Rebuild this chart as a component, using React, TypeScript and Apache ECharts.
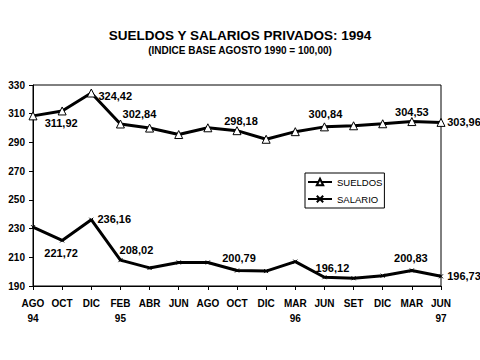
import React, { useEffect, useRef } from "react";
import * as echarts from "echarts";

const months = ["AGO", "OCT", "DIC", "FEB", "ABR", "JUN", "AGO", "OCT", "DIC", "MAR", "JUN", "SET", "DIC", "MAR", "JUN"];
const years = ["94", "", "", "95", "", "", "", "", "", "96", "", "", "", "", "97"];
const sueldos = [308.5, 311.92, 324.42, 302.84, 300.0, 295.5, 300.2, 298.18, 292.2, 297.5, 300.84, 301.6, 303.0, 304.53, 303.96];
const salarios = [231.0, 221.72, 236.16, 208.02, 202.6, 206.4, 206.4, 200.79, 200.4, 207.0, 196.12, 195.4, 197.2, 200.83, 196.73];
const yTicks = [190, 210, 230, 250, 270, 290, 310, 330];
const legendNames: Record<string, string> = { SUELDOS: "SUELDOS", SALARIOS: "SALARIO" };

const FONT = "Liberation Sans, Arial, sans-serif";

// label offsets (dx, dy) for labelled points, keyed by index
const sueldosLabels: Record<number, [number, number]> = {
  1: [-1, 12], 2: [24, 3], 3: [19, -10], 7: [4, -10], 10: [1, -13], 13: [0, -10], 14: [23, 0],
};
const salariosLabels: Record<number, [number, number]> = {
  1: [-1, 13], 2: [23, -1], 3: [16, -10], 7: [2, -13], 10: [8, -9], 13: [-1, -12], 14: [23, 0],
};

const fmt = (v: number) => v.toFixed(2).replace(".", ",");

function buildData(values: number[], labels: Record<number, [number, number]>) {
  return values.map((v, i) => {
    const off = labels[i];
    if (!off) return v;
    return {
      value: v,
      label: {
        show: true,
        position: "inside",
        offset: off,
        formatter: fmt(v),
        color: "#000",
        fontFamily: FONT,
        fontWeight: "bold",
        fontSize: 11,
      },
    };
  });
}

export default function App() {
  const ref = useRef<HTMLDivElement>(null);
  useEffect(() => {
    if (!ref.current) return;
    const chart = echarts.init(ref.current, undefined, { renderer: "svg" });
    chart.setOption({
      animation: false,
      backgroundColor: "#fff",
      title: {
        text: "SUELDOS Y SALARIOS PRIVADOS: 1994",
        subtext: "(INDICE BASE AGOSTO 1990 = 100,00)",
        left: "center",
        top: 23,
        itemGap: 3,
        textStyle: { fontFamily: FONT, fontWeight: "bold", fontSize: 13.5, color: "#000" },
        subtextStyle: { fontFamily: FONT, fontWeight: "bold", fontSize: 10, color: "#000" },
      },
      legend: {
        left: 305,
        top: 173,
        orient: "vertical",
        backgroundColor: "#fff",
        borderColor: "#000",
        borderWidth: 1,
        padding: [4, 2, 4, 2],
        itemGap: 7,
        itemWidth: 24,
        itemHeight: 8,
        formatter: (name: string) => legendNames[name] ?? name,
        textStyle: { fontFamily: FONT, fontSize: 9.5, color: "#000" },
        data: ["SUELDOS", "SALARIOS"],
      },
      grid: {
        left: 33,
        right: 39,
        top: 85,
        bottom: 74,
        show: true,
        borderColor: "#000",
        borderWidth: 1,
        backgroundColor: "transparent",
      },
      xAxis: {
        type: "category",
        boundaryGap: false,
        data: months,
        axisLine: { lineStyle: { color: "#000", width: 1 } },
        axisTick: { show: true, inside: false, length: 4, lineStyle: { color: "#000" } },
        axisLabel: {
          interval: 0,
          margin: 10,
          fontFamily: FONT,
          fontWeight: "bold",
          fontSize: 10,
          color: "#000",
          lineHeight: 15,
          formatter: (val: string, idx: number) => (years[idx] ? `${val}\n${years[idx]}` : val),
        },
        splitLine: { show: false },
      },
      yAxis: {
        type: "value",
        min: yTicks[0],
        max: yTicks[yTicks.length - 1],
        interval: yTicks[1] - yTicks[0],
        axisLine: { show: true, lineStyle: { color: "#000", width: 1 } },
        axisTick: { show: true, inside: false, length: 4, lineStyle: { color: "#000" } },
        axisLabel: { margin: 8, fontFamily: FONT, fontWeight: "bold", fontSize: 10, color: "#000" },
        splitLine: { show: false },
      },
      series: [
        {
          name: "SUELDOS",
          type: "line",
          data: buildData(sueldos, sueldosLabels),
          symbol: "triangle",
          symbolSize: 8,
          showAllSymbol: true,
          lineStyle: { color: "#000", width: 3 },
          itemStyle: { color: "#fff", borderColor: "#000", borderWidth: 1 },
        },
        {
          name: "SALARIOS",
          type: "line",
          data: buildData(salarios, salariosLabels),
          symbol: "path://M0,0L10,10M10,0L0,10",
          symbolSize: 4,
          showAllSymbol: true,
          lineStyle: { color: "#000", width: 3 },
          itemStyle: { color: "#000", borderColor: "#000", borderWidth: 1 },
        },
      ],
    });
    return () => chart.dispose();
  }, []);
  return <div ref={ref} style={{ width: 480, height: 360, position: "absolute", left: 0, top: 0 }} />;
}
